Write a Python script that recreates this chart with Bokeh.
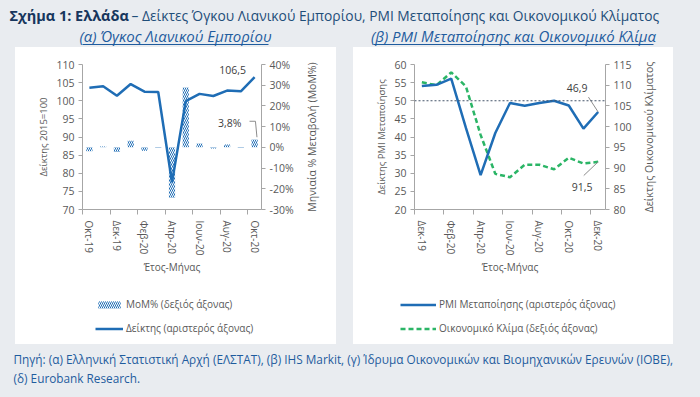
import math
from bokeh.plotting import figure
from bokeh.models import (Range1d, LinearAxis, FixedTicker, PrintfTickFormatter,
                          Label, Legend, LegendItem, Span, Spacer)
from bokeh.layouts import column, row
from bokeh.embed import file_html
from bokeh.resources import INLINE
from bokeh.core.properties import value

# ---------------- data ----------------
retail_months = ["Οκτ-19", "Νοε-19", "Δεκ-19", "Ιαν-20", "Φεβ-20", "Μαρ-20", "Απρ-20",
                 "Μαϊ-20", "Ιουν-20", "Ιουλ-20", "Αυγ-20", "Σεπ-20", "Οκτ-20"]
retail_index = [103.6, 104.0, 101.4, 104.6, 102.5, 102.4, 77.5, 99.9, 101.9, 101.3, 102.8, 102.6, 106.5]
retail_mom = [-1.9, 0.4, -2.3, 3.2, -1.6, -0.3, -24.3, 28.9, 1.9, -0.6, 1.4, -0.3, 3.8]

pmi_months = ["Δεκ-19", "Ιαν-20", "Φεβ-20", "Μαρ-20", "Απρ-20", "Μαϊ-20", "Ιουν-20",
              "Ιουλ-20", "Αυγ-20", "Σεπ-20", "Οκτ-20", "Νοε-20", "Δεκ-20"]
pmi_values = [54.1, 54.4, 56.1, 42.5, 29.5, 41.1, 49.4, 48.6, 49.4, 50.0, 48.7, 42.3, 46.9]
esi_values = [110.7, 110.0, 113.1, 109.7, 98.0, 88.6, 87.8, 90.8, 90.8, 89.7, 92.5, 91.1, 91.5]

# ---------------- styles ----------------
FONT = "Open Sans"
BG = "#e9ecf0"
AX = "#a6a6a6"
TXT = "#595959"
BLUE = "#1f6db5"
GREEN = "#2bb566"
NAVY = "#1f4e79"
SRC = "#1f5c9e"
CHART_H = 240
LEG_H = 57
TITLE_W = 35
NAN = float("nan")


def style_axis(ax, label_size="10.5px"):
    ax.axis_line_color = AX
    ax.major_tick_line_color = AX
    ax.minor_tick_line_color = AX
    ax.major_tick_in = 0
    ax.major_tick_out = 4
    ax.minor_tick_in = 0
    ax.minor_tick_out = 0
    ax.major_label_text_font = FONT
    ax.major_label_text_font_size = label_size
    ax.major_label_text_color = TXT
    ax.major_label_standoff = 4
    ax.axis_label_text_font = FONT
    ax.axis_label_text_font_size = "9.5px"
    ax.axis_label_text_font_style = "normal"
    ax.axis_label_text_color = TXT


def style_xaxis(p, months):
    centers = list(range(len(months)))[::2]
    xa = p.xaxis[0]
    style_axis(xa, "10px")
    xa.ticker = FixedTicker(ticks=centers, minor_ticks=[c - 0.5 for c in centers])
    xa.major_label_overrides = {c: months[c] for c in centers}
    xa.major_label_orientation = "vertical"
    xa.major_tick_out = 0
    xa.minor_tick_out = 5
    xa.major_label_standoff = 6
    xa.axis_label = "Έτος-Μήνας"
    xa.axis_label_text_font_size = "10px"
    xa.axis_label_standoff = 2


def make_chart(width, mb_left, mb_right, months, yr):
    n = len(months)
    p = figure(width=width, height=CHART_H, x_range=Range1d(-0.5, n - 0.5), y_range=Range1d(*yr),
               output_backend="svg", toolbar_location=None, title=None,
               min_border_left=mb_left, min_border_right=mb_right,
               min_border_top=17, min_border_bottom=CHART_H - 162,
               outline_line_color=None, background_fill_color="white",
               border_fill_color="white")
    p.grid.visible = False
    return p


def blank(width, height, color):
    f = figure(width=width, height=height, x_range=Range1d(0, width), y_range=Range1d(height, 0),
               output_backend="svg", toolbar_location=None, title=None,
               x_axis_location=None, y_axis_location=None, min_border=0,
               outline_line_color=None, background_fill_color=color, border_fill_color=color)
    f.grid.visible = False
    return f


def side_title(text, center_y, size):
    # narrow strip whose (empty) left axis carries the right-hand axis title,
    # read from bottom to top and centred on center_y (pixels from the top)
    f = figure(width=TITLE_W, height=CHART_H, x_range=Range1d(0, 1), y_range=Range1d(0, 1),
               output_backend="svg", toolbar_location=None, title=None,
               x_axis_location=None, min_border_left=18, min_border_right=0,
               min_border_top=17, min_border_bottom=CHART_H - (2 * center_y - 17),
               outline_line_color=None, background_fill_color="white",
               border_fill_color="white")
    f.grid.visible = False
    ax = f.yaxis[0]
    ax.ticker = FixedTicker(ticks=[])
    ax.axis_line_color = None
    ax.major_tick_line_color = None
    ax.minor_tick_line_color = None
    ax.major_tick_out = 0
    ax.major_label_standoff = 0
    ax.axis_label = text
    ax.axis_label_standoff = 1
    ax.axis_label_text_font = FONT
    ax.axis_label_text_font_size = size
    ax.axis_label_text_font_style = "normal"
    ax.axis_label_text_color = TXT
    return f


def style_legend(leg, glyph_w):
    leg.label_text_font = FONT
    leg.label_text_font_size = "10px"
    leg.label_text_color = TXT
    leg.glyph_width = glyph_w
    leg.glyph_height = 9
    leg.label_height = 14
    leg.label_standoff = 3
    leg.spacing = 10
    leg.padding = 0
    leg.margin = 0
    leg.border_line_color = None
    leg.background_fill_alpha = 0


BAR_STYLE = dict(fill_color="white", line_color=None, hatch_pattern=value("left_diagonal_line"),
                 hatch_color=BLUE, hatch_scale=4, hatch_weight=1)
LINE_STYLE = dict(line_color=BLUE, line_width=2.5)
DASH_STYLE = dict(line_color=GREEN, line_width=2.5, line_dash="5 3")

# ---------------- left panel: retail volume ----------------
xs_l = list(range(len(retail_months)))
pL = make_chart(321 - TITLE_W, 67, 40, retail_months, (70, 110))
pL.extra_y_ranges = {"pct": Range1d(-30, 40)}

pL.vbar(x=xs_l, top=retail_mom, bottom=0, width=0.45, y_range_name="pct", **BAR_STYLE)
pL.line(x=xs_l, y=retail_index, **LINE_STYLE)

ya = pL.yaxis[0]
style_axis(ya)
ya.ticker = FixedTicker(ticks=list(range(70, 111, 5)))
ya.axis_label = "Δείκτης 2015=100"
ya.axis_label_standoff = 3

ra = LinearAxis(y_range_name="pct", ticker=FixedTicker(ticks=list(range(-30, 41, 10))),
                formatter=PrintfTickFormatter(format="%d%%"))
style_axis(ra)
pL.add_layout(ra, "right")
style_xaxis(pL, retail_months)

last = len(retail_months) - 1
pL.add_layout(Label(x=xs_l[last], y=retail_index[last], x_offset=-22, y_offset=7,
                    text="106,5", text_align="center", text_baseline="middle",
                    text_font=FONT, text_font_size="10.5px", text_color="#404040"))
pL.add_layout(Label(x=xs_l[last], y=retail_mom[last], y_range_name="pct", x_offset=-25, y_offset=16,
                    text="3,8%", text_align="center", text_baseline="middle",
                    text_font=FONT, text_font_size="10.5px", text_color="#404040"))
pL.line(x=[11.63, 12.06, 12.17], y=[12.6, 12.6, 4.9], y_range_name="pct",
        line_color="#8c8c8c", line_width=1)

titleL = side_title("Μηνιαία % Μεταβολή (MoM%)", 96, "10.5px")

legL = blank(321, LEG_H, "white")
leg_bar = legL.vbar(x=[NAN], top=[NAN], width=0.45, **BAR_STYLE)
leg_line = legL.line(x=[NAN], y=[NAN], **LINE_STYLE)
lgL = Legend(items=[LegendItem(label="MoM% (δεξιός άξονας)", renderers=[leg_bar]),
                    LegendItem(label="Δείκτης (αριστερός άξονας)", renderers=[leg_line])],
             location=(80, 9))
style_legend(lgL, 28)
legL.add_layout(lgL)

# ---------------- right panel: PMI & sentiment ----------------
xs_r = list(range(len(pmi_months)))
pR = make_chart(320 - TITLE_W, 61, 33, pmi_months, (20, 60))
pR.extra_y_ranges = {"esi": Range1d(80, 115)}

pR.add_layout(Span(location=50, dimension="width", line_color="#44546a",
                   line_dash="2 2", line_width=1))
pR.line(x=xs_r, y=esi_values, y_range_name="esi", **DASH_STYLE)
pR.line(x=xs_r, y=pmi_values, **LINE_STYLE)

ya2 = pR.yaxis[0]
style_axis(ya2)
ya2.ticker = FixedTicker(ticks=list(range(20, 61, 5)))
ya2.axis_label = "Δείκτης PMI Μεταποίησης"
ya2.axis_label_standoff = 3

ra2 = LinearAxis(y_range_name="esi", ticker=FixedTicker(ticks=list(range(80, 116, 5))))
style_axis(ra2)
pR.add_layout(ra2, "right")
style_xaxis(pR, pmi_months)

lr = len(pmi_months) - 1
pR.add_layout(Label(x=xs_r[lr], y=pmi_values[lr], x_offset=-21, y_offset=24,
                    text="46,9", text_align="center", text_baseline="middle",
                    text_font=FONT, text_font_size="10.5px", text_color="#404040"))
pR.line(x=[11.34, 12.0], y=[51.0, pmi_values[lr]], line_color="#8c8c8c", line_width=1)
pR.add_layout(Label(x=xs_r[lr], y=esi_values[lr], y_range_name="esi", x_offset=-16, y_offset=-25,
                    text="91,5", text_align="center", text_baseline="middle",
                    text_font=FONT, text_font_size="10.5px", text_color="#404040"))
pR.line(x=[11.02, 12.0], y=[88.2, esi_values[lr]], y_range_name="esi",
        line_color="#8c8c8c", line_width=1)

titleR = side_title("Δείκτης Οικονομικού Κλίματος", 95, "10.5px")

legR = blank(320, LEG_H, "white")
leg_pmi = legR.line(x=[NAN], y=[NAN], **LINE_STYLE)
leg_esi = legR.line(x=[NAN], y=[NAN], **DASH_STYLE)
lgR = Legend(items=[LegendItem(label="PMI Μεταποίησης (αριστερός άξονας)", renderers=[leg_pmi]),
                    LegendItem(label="Οικονομικό Κλίμα (δεξιός άξονας)", renderers=[leg_esi])],
             location=(47, 9))
style_legend(lgR, 36)
legR.add_layout(lgR)

# ---------------- header and footer ----------------
head = blank(700, 47, BG)
head.add_layout(Label(x=9, y=15, text="Σχήμα 1: Ελλάδα", text_font=FONT, text_font_size="14.5px",
                      text_font_style="bold", text_color="#17365d", text_baseline="middle"))
head.add_layout(Label(x=131, y=15, text="– Δείκτες Όγκου Λιανικού Εμπορίου, PMI Μεταποίησης και Οικονομικού Κλίματος",
                      text_font=FONT, text_font_size="13.8px", text_color=NAVY, text_baseline="middle"))
head.add_layout(Label(x=175, y=35, text="(α) Όγκος Λιανικού Εμπορίου", text_font=FONT,
                      text_font_size="15px", text_font_style="italic", text_color=SRC,
                      text_align="center", text_baseline="middle"))
head.add_layout(Label(x=513, y=35, text="(β) PMI Μεταποίησης και Οικονομικό Κλίμα", text_font=FONT,
                      text_font_size="15px", text_font_style="italic", text_color=SRC,
                      text_align="center", text_baseline="middle"))
head.segment(x0=[82, 373], y0=[44, 44], x1=[268, 653], y1=[44, 44], line_color=SRC, line_width=1)

foot = blank(700, 53, BG)
foot.add_layout(Label(x=13, y=14, text="Πηγή: (α) Ελληνική Στατιστική Αρχή (ΕΛΣΤΑΤ), (β) IHS Markit, (γ) Ίδρυμα Οικονομικών και Βιομηχανικών Ερευνών (ΙΟΒΕ),",
                      text_font=FONT, text_font_size="11.8px", text_color=SRC, text_baseline="middle"))
foot.add_layout(Label(x=13, y=33, text="(δ) Eurobank Research.", text_font=FONT,
                      text_font_size="11.8px", text_color=SRC, text_baseline="middle"))

gray = {"background-color": BG}
white = {"background-color": "white"}
left_col = column(row(pL, titleL, styles=white), legL, styles=white)
right_col = column(row(pR, titleR, styles=white), legR, styles=white)
mid = row(Spacer(width=15, height=297), left_col, Spacer(width=17, height=297), right_col,
          Spacer(width=27, height=297), styles=gray)
p = column(head, mid, foot, styles=gray)

open("out.html", "w").write(file_html(p, INLINE))
